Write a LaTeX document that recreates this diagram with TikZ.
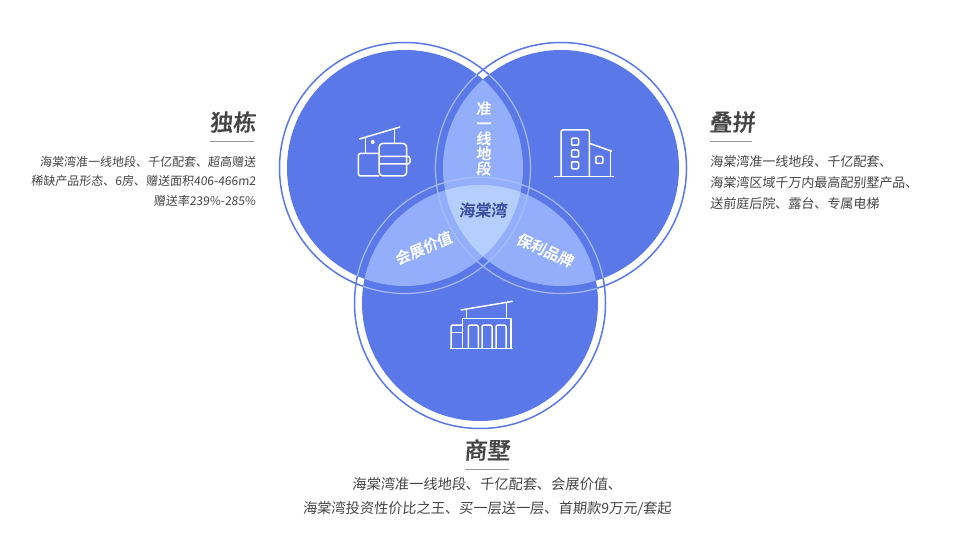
\documentclass[tikz,border=0pt]{standalone}
\usepackage{xcolor}
\usepackage{fontspec}
\setmainfont{Noto Sans CJK SC}[FakeSlant=0.08, BoldFont={Noto Sans CJK SC Medium}, BoldFeatures={FakeSlant=0.08, FakeBold=0.6}]
\usetikzlibrary{positioning,calc}
\definecolor{venn}{HTML}{5A78E8}
\definecolor{lens}{HTML}{93AFFB}
\definecolor{core}{HTML}{B4CFFE}
\definecolor{halo}{HTML}{A6BCF8}
\definecolor{ink}{HTML}{444444}
\definecolor{coreink}{HTML}{3B4C9E}

\begin{document}
\begin{tikzpicture}[
  x=1pt, y=-1pt,
  node distance=4pt and 0pt,
  ring/.style={draw=venn, line width=1.5pt},
  ringlight/.style={draw=halo, line width=1.2pt},
  icon/.style={draw=white, line width=1.5pt, line join=round},
  title/.style={font=\fontsize{23}{23}\selectfont\bfseries, text=ink, inner sep=0pt},
  rulegray/.style={draw=black!40, line width=0.6pt},
  body/.style={text=ink, inner sep=0pt},
  vennlabel/.style={font=\fontsize{15}{15}\selectfont\bfseries, text=white, inner sep=0pt}
]
\useasboundingbox (0,0) rectangle (960,540);

\coordinate (dulian) at (405,168);
\coordinate (diepin) at (561,168);
\coordinate (shangshu) at (480,303);

% rings and fills
\foreach \c in {dulian,diepin,shangshu}
  \draw[ring] (\c) circle (125.5pt);
\foreach \c in {dulian,diepin,shangshu}
  \fill[venn] (\c) circle (118pt);

% overlaps
\begin{scope}
  \clip (dulian) circle (118pt);
  \fill[lens] (diepin) circle (118pt);
  \fill[lens] (shangshu) circle (118pt);
  \clip (diepin) circle (118pt);
  \fill[core] (shangshu) circle (118pt);
\end{scope}
\begin{scope}
  \clip (diepin) circle (118pt);
  \fill[lens] (shangshu) circle (118pt);
  \clip (dulian) circle (118pt);
  \fill[core] (shangshu) circle (118pt);
\end{scope}

% rings seen over the fills
\foreach \c in {dulian,diepin,shangshu}{
  \begin{scope}
    \clip (\c) circle (118pt);
    \draw[ringlight] (dulian) circle (125.5pt);
    \draw[ringlight] (diepin) circle (125.5pt);
    \draw[ringlight] (shangshu) circle (125.5pt);
  \end{scope}
}

% left icon
\draw[icon] (359.3,139) -- (400,127);
\draw[icon] (365.7,137.5) -- (365.7,153.3);
\draw[icon] (394.7,128.5) -- (394.7,143.3);
\fill[white] (372.7,142) circle (2pt);
\draw[icon, rounded corners=2.5pt] (379,153.3) -- (358.3,153.3) -- (358.3,176) -- (379,176);
\draw[icon, rounded corners=4pt] (379,143.3) rectangle (406.7,176);
\draw[icon, rounded corners=2.5pt] (379,156.3) -- (410,156.3) -- (410,164) -- (379,164);

% right icon
\draw[icon] (554,176.7) -- (614,176.7);
\draw[icon, rounded corners=2pt] (561,176.7) -- (561,130) -- (589.3,130) -- (589.3,176.7);
\draw[icon] (589.3,143.3) -- (612,151.3);
\draw[icon] (610.3,150.7) -- (610.3,176.7);
\foreach \y in {141.7,153.5,165.3}
  \draw[icon, rounded corners=1pt] (571.5,\y-3.5) rectangle (578.5,\y+3.5);
\draw[icon, rounded corners=1pt] (595.8,156.5) rectangle (602.8,163.5);

% bottom icon
\draw[icon] (460.7,310) -- (512.7,301.3);
\draw[icon] (466.7,309) -- (466.7,318.3);
\draw[icon] (506.7,302.5) -- (506.7,318.3);
\draw[icon] (462.7,348.3) -- (462.7,318.3) -- (511,318.3) -- (511,348.3);
\draw[icon] (450,348.3) -- (513.3,348.3);
\draw[icon, rounded corners=1.5pt] (462.7,325) -- (451,325) -- (451,348.3);
\draw[icon] (451,332.7) -- (462.7,332.7);
\foreach \x in {468.3,482,496}
  \draw[icon, rounded corners=2pt] (\x,348.3) -- (\x,325) -- (\x+10,325) -- (\x+10,348.3);

% labels inside the circles
\node[vennlabel, align=center] (zhunyi) at (483.5,138.5) {准\\一\\线\\地\\段};
\node[vennlabel, text=coreink, font=\fontsize{16}{16}\selectfont\bfseries] (haitang) at (483,210) {海棠湾};
\node[vennlabel, rotate=23] (huizhan) at (423.3,248) {会展价值};
\node[vennlabel, rotate=-24] (baoli) at (545,250) {保利品牌};

% left text
\node[title, anchor=east] (t1) at (256,122) {独栋};
\draw[rulegray] (210,141.5) -- (254,141.5);
\node[body, anchor=north east, align=right, font=\fontsize{12}{19.3}\selectfont] (b1) at (256,156) {海棠湾准一线地段、千亿配套、超高赠送\\稀缺产品形态、6房、赠送面积406-466m2\\赠送率239\%-285\%};

% right text
\node[title, anchor=west] (t2) at (709,122) {叠拼};
\draw[rulegray] (710,141.5) -- (752,141.5);
\node[body, anchor=north west, align=left, font=\fontsize{13}{21}\selectfont] (b2) at (710,155) {海棠湾准一线地段、千亿配套、\\海棠湾区域千万内最高配别墅产品、\\送前庭后院、露台、专属电梯};

% bottom text
\node[title] (t3) at (487,450) {商墅};
\draw[rulegray] (465,469.5) -- (509,469.5);
\node[body, align=center, font=\fontsize{14.2}{24}\selectfont] (b3) at (487,496.5) {海棠湾准一线地段、千亿配套、会展价值、\\海棠湾投资性价比之王、买一层送一层、首期款9万元/套起};
\end{tikzpicture}
\end{document}
